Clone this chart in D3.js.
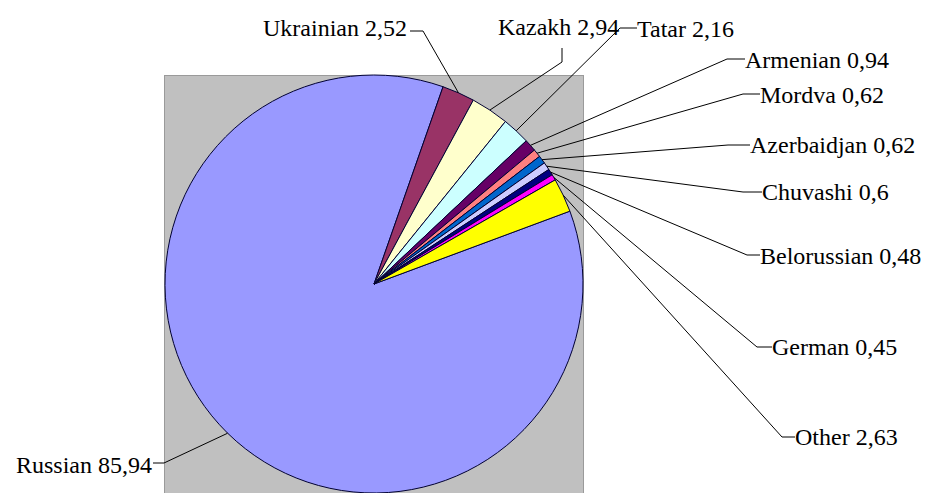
<!DOCTYPE html>
<html>
<head>
<meta charset="utf-8">
<script src="https://cdn.jsdelivr.net/npm/d3@7"></script>
<style>
  html, body { margin: 0; padding: 0; background: #ffffff; }
  svg { display: block; }
</style>
</head>
<body>
<svg id="chart" width="931" height="493"></svg>
<script>
// ---- data ----
const categories = ["Russian", "Ukrainian", "Kazakh", "Tatar", "Armenian", "Mordva",
                    "Azerbaidjan", "Chuvashi", "Belorussian", "German", "Other"];
const values = [85.94, 2.52, 2.94, 2.16, 0.94, 0.62, 0.62, 0.6, 0.48, 0.45, 2.63];
const colors = ["#9999ff", "#993366", "#ffffcc", "#ccffff", "#660066", "#ff8080",
                "#0066cc", "#ccccff", "#000080", "#ff00ff", "#ffff00"];

// ---- layout (label placement, as in the original) ----
const W = 931, H = 493;
const cx = 374, cy = 284, R = 209;
const startDeg = 69.6;
const labelX      = [152, 407, 498, 637, 745, 760, 750, 762, 760, 772, 795];
const labelY      = [473, 36, 35, 37, 68, 103, 153, 200, 264, 355, 445];
const labelAnchor = ["end", "end", "start", "start", "start", "start", "start", "start", "start", "start", "start"];
const elbow = [[164, 463], [423, 31], [562, 62], [620, 28], [727, 59], [743, 94], [728, 145], [743, 192], [747, 255], [757, 347], [782, 437]];
const lineEnd = [[153, 463], [410, 31], [562, 48], [637, 28], [745, 59], [760, 94], [750, 145], [762, 192], [760, 255], [772, 347], [795, 437]];

const svg = d3.select("#chart");

// plot area
svg.append("rect")
  .attr("x", 164.5).attr("y", 75.5)
  .attr("width", 419).attr("height", 420)
  .attr("fill", "#c0c0c0")
  .attr("stroke", "#9a9a9a").attr("stroke-width", 1);

const data = categories.map((c, i) => ({ name: c, value: values[i], color: colors[i] }));

const a0 = startDeg * Math.PI / 180;
const pie = d3.pie().sort(null).value(d => d.value)
  .startAngle(a0).endAngle(a0 + 2 * Math.PI);
const arcs = pie(data);

const arc = d3.arc().innerRadius(0).outerRadius(R);
const edgeArc = d3.arc().innerRadius(R).outerRadius(R);

const g = svg.append("g").attr("transform", `translate(${cx},${cy})`);
g.selectAll("path.slice")
  .data(arcs)
  .join("path")
  .attr("class", "slice")
  .attr("d", arc)
  .attr("fill", d => d.data.color)
  .attr("stroke", "#000033")
  .attr("stroke-width", 1)
  .attr("stroke-linejoin", "round");

// leader lines
const line = d3.line();
svg.selectAll("path.leader")
  .data(arcs)
  .join("path")
  .attr("class", "leader")
  .attr("d", (d, i) => {
    const c = edgeArc.centroid(d);
    return line([[cx + c[0], cy + c[1]], elbow[i], lineEnd[i]]);
  })
  .attr("fill", "none")
  .attr("stroke", "#000")
  .attr("stroke-width", 1);

// labels
const fmt = v => String(v).replace(".", ",");
svg.selectAll("text.lbl")
  .data(arcs)
  .join("text")
  .attr("class", "lbl")
  .attr("x", (d, i) => labelX[i])
  .attr("y", (d, i) => labelY[i])
  .attr("text-anchor", (d, i) => labelAnchor[i])
  .attr("font-family", "'Liberation Serif', 'DejaVu Serif', 'Times New Roman', serif")
  .attr("font-size", 24)
  .attr("fill", "#000")
  .text(d => `${d.data.name} ${fmt(d.data.value)}`);
</script>
</body>
</html>
